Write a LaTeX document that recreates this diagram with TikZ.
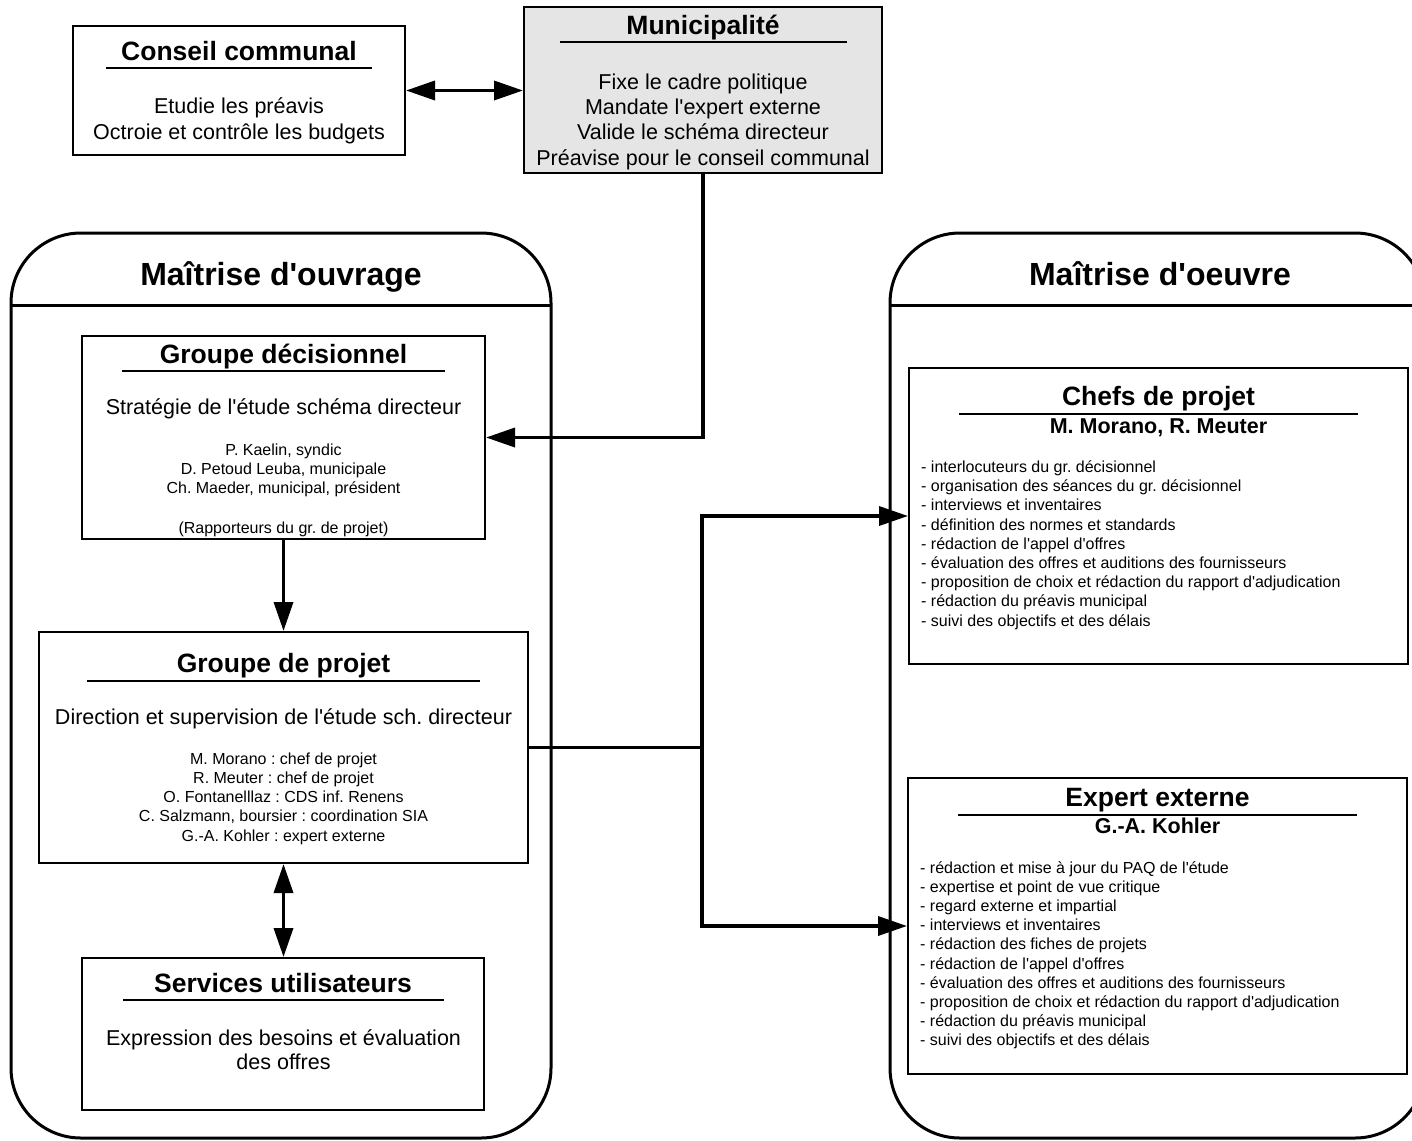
\documentclass[tikz,border=0pt]{standalone}
\usepackage{fontspec}
\setmainfont{Liberation Sans}[Ligatures=TeXOff]
\usetikzlibrary{arrows.meta}
\frenchspacing

\tikzset{
	box/.style={draw, line width=2pt, inner sep=0pt},
	panel/.style={draw, line width=3pt, rounded corners=70pt, inner sep=0pt},
	link/.style={line width=3.5pt, -{Triangle[length=29pt, width=19pt]}},
	twoway/.style={line width=3.5pt, {Triangle[length=29pt, width=19pt]}-{Triangle[length=29pt, width=19pt]}},
	paneltitle/.style={anchor=base, inner sep=0pt, font=\bfseries\fontsize{32}{38}\selectfont},
	boxtitle/.style={anchor=base, inner sep=0pt, font=\bfseries\fontsize{26.5}{32}\selectfont},
	subtitle/.style={anchor=base, inner sep=0pt, font=\bfseries\fontsize{21.5}{26}\selectfont},
	bodyline/.style={anchor=base, inner sep=0pt, font=\fontsize{21.5}{26}\selectfont},
	nameline/.style={anchor=base, inner sep=0pt, font=\fontsize{16}{19}\selectfont},
	listline/.style={anchor=base west, inner sep=0pt, font=\fontsize{16}{19}\selectfont},
}

\begin{document}
\begin{tikzpicture}[x=1pt, y=-1pt]
	\useasboundingbox (0,0) rectangle (1412,1140);
	\clip (0,0) rectangle (1412,1140);

	% conseil communal
	\node[box, minimum width=332pt, minimum height=129pt] (conseil) at (239,90.5) {};
	\node[boxtitle] (conseil-t) at (239,60) {Conseil communal};
	\draw[line width=2pt] (106,68) -- (372,68);
	\node[bodyline] (conseil-1) at (239,113) {Etudie les préavis};
	\node[bodyline] (conseil-2) at (239,139) {Octroie et contrôle les budgets};

	% municipalite
	\node[box, fill=black!10, minimum width=358pt, minimum height=166pt] (municipalite) at (703,90) {};
	\node[boxtitle] (municipalite-t) at (703,35) {Municipalité};
	\draw[line width=2pt] (560,42) -- (847,42);
	\node[bodyline] (municipalite-1) at (703,89) {Fixe le cadre politique};
	\node[bodyline] (municipalite-2) at (703,114) {Mandate l'expert externe};
	\node[bodyline] (municipalite-3) at (703,139.5) {Valide le schéma directeur};
	\node[bodyline] (municipalite-4) at (703,165) {Préavise pour le conseil communal};

	% the two panels
	\node[panel, minimum width=540pt, minimum height=905pt] (ouvrage) at (281,685.5) {};
	\draw[line width=3pt] (11,305) -- (551,305);
	\node[paneltitle] (ouvrage-t) at (281,285) {Maîtrise d'ouvrage};
	\node[panel, minimum width=535pt, minimum height=905pt] (oeuvre) at (1157.5,685.5) {};
	\draw[line width=3pt] (890,305) -- (1425,305);
	\node[paneltitle] (oeuvre-t) at (1160,285) {Maîtrise d'oeuvre};

	% groupe decisionnel
	\node[box, minimum width=403pt, minimum height=203pt] (decision) at (283.5,437.5) {};
	\node[boxtitle] (decision-t) at (283.5,363) {Groupe décisionnel};
	\draw[line width=2pt] (122,371) -- (445,371);
	\node[bodyline] (decision-b) at (283.5,414) {Stratégie de l'étude schéma directeur};
	\node[nameline] (decision-1) at (283.5,455) {P. Kaelin, syndic};
	\node[nameline] (decision-2) at (283.5,474) {D. Petoud Leuba, municipale};
	\node[nameline] (decision-3) at (283.5,493) {Ch. Maeder, municipal, président};
	\node[nameline] (decision-4) at (283.5,533) {(Rapporteurs du gr. de projet)};

	% groupe de projet
	\node[box, minimum width=489pt, minimum height=231pt] (projet) at (283.5,747.5) {};
	\node[boxtitle] (projet-t) at (283.5,672) {Groupe de projet};
	\draw[line width=2pt] (87,681) -- (480,681);
	\node[bodyline] (projet-b) at (283.5,724) {Direction et supervision de l'étude sch. directeur};
	\node[nameline] (projet-1) at (283.5,764) {M. Morano : chef de projet};
	\node[nameline] (projet-2) at (283.5,783.3) {R. Meuter : chef de projet};
	\node[nameline] (projet-3) at (283.5,802.6) {O. Fontanelllaz : CDS inf. Renens};
	\node[nameline] (projet-4) at (283.5,821.9) {C. Salzmann, boursier : coordination SIA};
	\node[nameline] (projet-5) at (283.5,841.2) {G.-A. Kohler : expert externe};

	% services utilisateurs
	\node[box, minimum width=402pt, minimum height=152pt] (services) at (283,1034) {};
	\node[boxtitle] (services-t) at (283,992) {Services utilisateurs};
	\draw[line width=2pt] (123,1000) -- (444,1000);
	\node[bodyline] (services-1) at (283.5,1045) {Expression des besoins et évaluation};
	\node[bodyline] (services-2) at (283.5,1069) {des offres};

	% chefs de projet
	\node[box, minimum width=499pt, minimum height=296pt] (chefs) at (1158.5,516) {};
	\node[boxtitle] (chefs-t) at (1158.5,405) {Chefs de projet};
	\draw[line width=2pt] (959,414) -- (1358,414);
	\node[subtitle] (chefs-s) at (1158.5,433) {M. Morano, R. Meuter};
	\node[listline] (chefs-1) at (921,472.5) {- interlocuteurs du gr. décisionnel};
	\node[listline] (chefs-2) at (921,491.7) {- organisation des séances du gr. décisionnel};
	\node[listline] (chefs-3) at (921,510.9) {- interviews et inventaires};
	\node[listline] (chefs-4) at (921,530.1) {- définition des normes et standards};
	\node[listline] (chefs-5) at (921,549.3) {- rédaction de l'appel d'offres};
	\node[listline] (chefs-6) at (921,568.5) {- évaluation des offres et auditions des fournisseurs};
	\node[listline] (chefs-7) at (921,587.7) {- proposition de choix et rédaction du rapport d'adjudication};
	\node[listline] (chefs-8) at (921,606.9) {- rédaction du préavis municipal};
	\node[listline] (chefs-9) at (921,626.1) {- suivi des objectifs et des délais};

	% expert externe
	\node[box, minimum width=499pt, minimum height=296pt] (expert) at (1157.5,926) {};
	\node[boxtitle] (expert-t) at (1157.5,806) {Expert externe};
	\draw[line width=2pt] (958,815) -- (1357,815);
	\node[subtitle] (expert-s) at (1157.5,833) {G.-A. Kohler};
	\node[listline] (expert-1) at (920,873) {- rédaction et mise à jour du PAQ de l'étude};
	\node[listline] (expert-2) at (920,892.2) {- expertise et point de vue critique};
	\node[listline] (expert-3) at (920,911.4) {- regard externe et impartial};
	\node[listline] (expert-4) at (920,930.6) {- interviews et inventaires};
	\node[listline] (expert-5) at (920,949.8) {- rédaction des fiches de projets};
	\node[listline] (expert-6) at (920,969) {- rédaction de l'appel d'offres};
	\node[listline] (expert-7) at (920,988.2) {- évaluation des offres et auditions des fournisseurs};
	\node[listline] (expert-8) at (920,1007.4) {- proposition de choix et rédaction du rapport d'adjudication};
	\node[listline] (expert-9) at (920,1026.6) {- rédaction du préavis municipal};
	\node[listline] (expert-10) at (920,1045.8) {- suivi des objectifs et des délais};

	% connectors
	\draw[twoway] (conseil.east) -- (conseil.east -| municipalite.west);
	\draw[link] (municipalite.south) |- (decision.east);
	\draw[link] (decision.south) -- (projet.north);
	\draw[twoway] (projet.south) -- (projet.south |- services.north);
	\coordinate (split) at (702,747.5);
	\draw[line width=3.5pt] (projet.east) -- (split);
	\draw[link] (split) |- (chefs.west);
	\draw[link] (split) |- (expert.west);
\end{tikzpicture}
\end{document}
